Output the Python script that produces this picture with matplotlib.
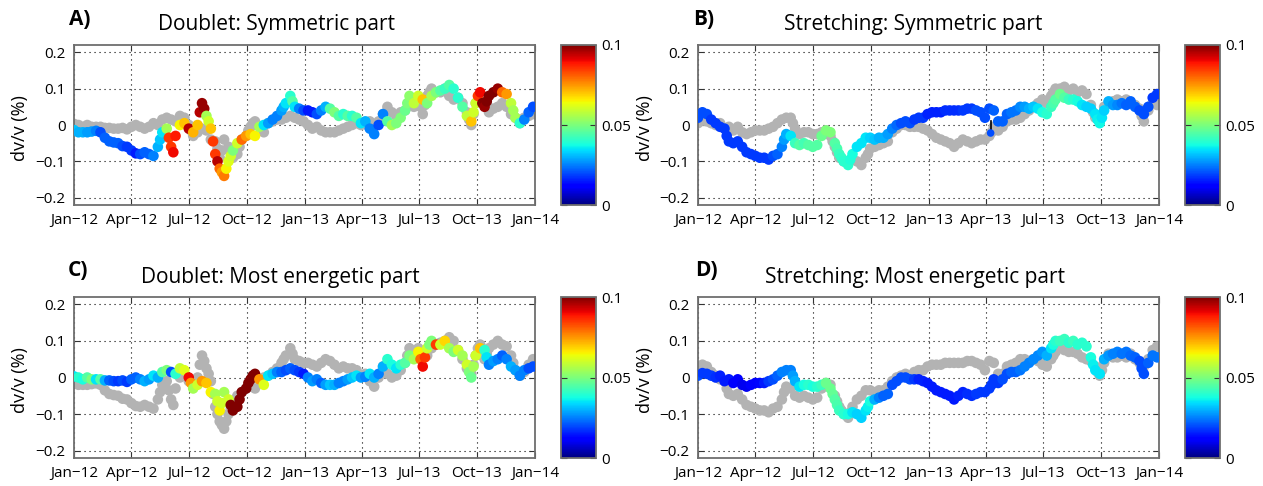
import numpy as np
import matplotlib
matplotlib.use("Agg")
import matplotlib.pyplot as plt

plt.rcParams['font.family'] = ['Open Sans', 'DejaVu Sans']

START = np.datetime64('2012-01-01')

# Weekly dv/v (%) samples, Jan 2012 - Dec 2013 (week 0 = 1 Jan 2012)
weeks = np.arange(105)

# Doublet method, symmetric part: dv/v (%) and its uncertainty
doublet_sym = [
    -0.014, -0.02, -0.02, -0.02, -0.018, -0.016, -0.02, -0.035, -0.045, -0.048,
    -0.05, -0.058, -0.06, -0.07, -0.078, -0.08, -0.075, -0.08, -0.085, -0.06,
    -0.02, -0.01, -0.06, -0.03, 0.0, 0.005, -0.01, -0.02, 0.0, 0.06,
    0.025, -0.01, -0.08, -0.12, -0.14, -0.1, -0.07, -0.05, -0.04, -0.03,
    -0.025, -0.03, -0.005, 0.0, 0.005, 0.015, 0.025, 0.04, 0.06, 0.08,
    0.05, 0.045, 0.04, 0.04, 0.035, 0.03, 0.04, 0.05, 0.045, 0.035,
    0.025, 0.03, 0.025, 0.025, 0.02, 0.005, 0.01, -0.01, -0.025, 0.0,
    0.03, 0.01, 0.0, 0.005, 0.02, 0.04, 0.08, 0.06, 0.08, 0.07,
    0.06, 0.08, 0.09, 0.095, 0.1, 0.11, 0.1, 0.075, 0.05, 0.025,
    0.01, 0.06, 0.09, 0.05, 0.08, 0.09, 0.1, 0.09, 0.085, 0.06,
    0.02, 0.005, 0.015, 0.035, 0.05,
]
doublet_sym_err = [
    0.032, 0.03, 0.03, 0.028, 0.028, 0.025, 0.02, 0.022, 0.022, 0.022,
    0.022, 0.02, 0.018, 0.018, 0.015, 0.02, 0.022, 0.022, 0.025, 0.03,
    0.035, 0.055, 0.085, 0.088, 0.065, 0.07, 0.095, 0.072, 0.07, 0.098,
    0.055, 0.07, 0.085, 0.08, 0.078, 0.062, 0.05, 0.06, 0.08, 0.075,
    0.07, 0.065, 0.055, 0.035, 0.028, 0.025, 0.025, 0.028, 0.035, 0.04,
    0.035, 0.025, 0.02, 0.015, 0.015, 0.02, 0.025, 0.03, 0.045, 0.05,
    0.045, 0.04, 0.045, 0.04, 0.045, 0.035, 0.03, 0.025, 0.025, 0.02,
    0.025, 0.045, 0.055, 0.05, 0.05, 0.048, 0.052, 0.058, 0.06, 0.07,
    0.05, 0.055, 0.05, 0.045, 0.042, 0.045, 0.04, 0.04, 0.045, 0.058,
    0.07, 0.06, 0.09, 0.098, 0.1, 0.1, 0.098, 0.08, 0.075, 0.058,
    0.055, 0.04, 0.025, 0.022, 0.02,
]
# Mid-week samples on the steep stretches
doublet_sym_mid_weeks = [19.5, 21.5, 22.5, 28.5, 29.5, 30.5, 31.5, 32.5, 33.5, 34.5, 35.5,
                         47.5, 49.5, 75.5, 90.5, 91.5, 92.5, 93.5, 99.5]
doublet_sym_mid = [-0.04, -0.035, -0.075, 0.035, 0.045, 0.01, -0.045, -0.1, -0.13, -0.12, -0.085,
                   0.05, 0.065, 0.06, 0.035, 0.08, 0.06, 0.065, 0.04]
doublet_sym_mid_err = [0.032, 0.085, 0.09, 0.095, 0.098, 0.06, 0.085, 0.095, 0.075, 0.065, 0.06,
                       0.03, 0.045, 0.05, 0.06, 0.085, 0.1, 0.1, 0.055]

# Stretching method, symmetric part
stretch_sym = [
    0.02, 0.035, 0.03, 0.015, 0.005, -0.005, -0.01, -0.045, -0.05, -0.045,
    -0.06, -0.075, -0.08, -0.085, -0.09, -0.09, -0.095, -0.085, -0.08, -0.06,
    -0.025, -0.03, -0.05, -0.055, -0.05, -0.055, -0.06, -0.055, -0.03, -0.015,
    -0.02, -0.05, -0.08, -0.1, -0.11, -0.08, -0.06, -0.05, -0.035, -0.035,
    -0.04, -0.035, -0.035, -0.025, -0.01, 0.0, 0.005, 0.01, 0.005, 0.015,
    0.02, 0.02, 0.03, 0.035, 0.035, 0.035, 0.04, 0.04, 0.04, 0.04,
    0.04, 0.045, 0.045, 0.04, 0.035, 0.02, 0.045, 0.04, 0.01, 0.01,
    0.03, 0.035, 0.04, 0.05, 0.05, 0.045, 0.05, 0.045, 0.035, 0.03,
    0.05, 0.07, 0.085, 0.075, 0.07, 0.07, 0.065, 0.055, 0.05, 0.045,
    0.03, 0.005, 0.04, 0.065, 0.055, 0.055, 0.06, 0.055, 0.065, 0.05,
    0.04, 0.03, 0.05, 0.075, 0.085,
]
stretch_sym_err = [
    0.02, 0.02, 0.02, 0.018, 0.018, 0.018, 0.018, 0.018, 0.018, 0.018,
    0.018, 0.018, 0.018, 0.018, 0.018, 0.018, 0.018, 0.02, 0.022, 0.025,
    0.03, 0.035, 0.042, 0.045, 0.043, 0.045, 0.045, 0.045, 0.048, 0.05,
    0.05, 0.045, 0.042, 0.04, 0.04, 0.038, 0.035, 0.035, 0.035, 0.033,
    0.032, 0.03, 0.03, 0.028, 0.025, 0.023, 0.02, 0.02, 0.02, 0.018,
    0.018, 0.018, 0.016, 0.016, 0.016, 0.016, 0.017, 0.017, 0.017, 0.017,
    0.018, 0.018, 0.018, 0.02, 0.02, 0.02, 0.02, 0.022, 0.022, 0.022,
    0.022, 0.024, 0.024, 0.026, 0.028, 0.03, 0.032, 0.035, 0.038, 0.04,
    0.042, 0.045, 0.048, 0.045, 0.042, 0.04, 0.038, 0.035, 0.033, 0.033,
    0.035, 0.037, 0.033, 0.03, 0.028, 0.026, 0.024, 0.022, 0.022, 0.022,
    0.02, 0.02, 0.02, 0.018, 0.018,
]
stretch_sym_mid_weeks = [6.5, 19.5, 31.5, 32.5, 34.5, 80.5, 90.5, 91.5]
stretch_sym_mid = [-0.03, -0.04, -0.065, -0.09, -0.095, 0.06, 0.015, 0.02]
stretch_sym_mid_err = [0.018, 0.028, 0.044, 0.041, 0.039, 0.044, 0.036, 0.035]
# Single outlying stretching estimate in April 2013, joined to its neighbour
stretch_sym_outlier_date = np.datetime64('2013-04-09')
stretch_sym_outlier = [-0.022, 0.012]
stretch_sym_outlier_err = 0.02

# Doublet method, most energetic part
doublet_en = [
    0.003, 0.0, -0.005, 0.0, -0.005, -0.005, -0.005, -0.008, -0.008, -0.01,
    -0.01, -0.008, -0.012, -0.005, 0.0, -0.005, -0.01, -0.005, 0.005, 0.0,
    0.015, 0.02, 0.015, 0.01, 0.025, 0.02, 0.0, -0.03, -0.02, -0.01,
    -0.015, -0.04, -0.045, -0.09, -0.04, -0.06, -0.09, -0.08, -0.04, -0.03,
    -0.005, 0.01, -0.005, -0.02, 0.005, 0.01, 0.015, 0.015, 0.02, 0.025,
    0.02, 0.015, 0.01, 0.0, -0.01, -0.005, -0.015, -0.02, -0.02, -0.02,
    -0.015, -0.01, -0.005, 0.0, 0.005, 0.0, 0.002, 0.01, 0.0, 0.01,
    0.03, 0.05, 0.035, 0.025, 0.035, 0.04, 0.06, 0.05, 0.07, 0.03,
    0.08, 0.1, 0.09, 0.09, 0.1, 0.08, 0.07, 0.075, 0.06, 0.035,
    0.0, 0.06, 0.08, 0.075, 0.035, 0.045, 0.05, 0.06, 0.05, 0.03,
    0.02, 0.005, 0.02, 0.025, 0.03,
]
doublet_en_err = [
    0.035, 0.04, 0.038, 0.045, 0.05, 0.035, 0.045, 0.03, 0.022, 0.02,
    0.018, 0.02, 0.018, 0.022, 0.022, 0.025, 0.03, 0.028, 0.035, 0.03,
    0.045, 0.05, 0.02, 0.04, 0.058, 0.062, 0.09, 0.055, 0.06, 0.075,
    0.07, 0.065, 0.055, 0.065, 0.055, 0.06, 0.1, 0.1, 0.1, 0.1,
    0.1, 0.1, 0.075, 0.062, 0.035, 0.032, 0.025, 0.022, 0.02, 0.022,
    0.02, 0.018, 0.015, 0.025, 0.028, 0.025, 0.022, 0.028, 0.032, 0.03,
    0.025, 0.025, 0.028, 0.032, 0.035, 0.028, 0.025, 0.035, 0.03, 0.025,
    0.03, 0.04, 0.038, 0.035, 0.04, 0.045, 0.05, 0.055, 0.065, 0.09,
    0.06, 0.05, 0.085, 0.06, 0.068, 0.055, 0.05, 0.06, 0.055, 0.06,
    0.048, 0.06, 0.07, 0.04, 0.025, 0.028, 0.025, 0.022, 0.025, 0.03,
    0.028, 0.025, 0.025, 0.02, 0.02,
]
doublet_en_mid_weeks = [26.5, 32.5, 33.5, 35.5, 37.5, 39.5, 40.5, 78.5, 79.5, 80.5,
                        89.5, 90.5, 93.5]
doublet_en_mid = [-0.015, -0.065, -0.07, -0.075, -0.06, -0.015, 0.005, 0.05, 0.055, 0.09,
                  0.015, 0.03, 0.055]
doublet_en_mid_err = [0.075, 0.06, 0.06, 0.1, 0.1, 0.1, 0.1, 0.08, 0.085, 0.05,
                      0.05, 0.055, 0.035]

# Stretching method, most energetic part
stretch_en = [
    0.005, 0.012, 0.01, 0.005, 0.0, 0.005, -0.01, -0.005, -0.015, -0.005,
    -0.02, -0.025, -0.02, -0.015, -0.015, -0.015, -0.01, -0.005, 0.005, 0.015,
    0.02, 0.02, -0.01, -0.025, -0.02, -0.02, -0.025, -0.025, -0.02, -0.015,
    -0.03, -0.06, -0.09, -0.1, -0.1, -0.095, -0.1, -0.11, -0.09, -0.065,
    -0.06, -0.055, -0.05, -0.045, -0.02, -0.01, 0.0, 0.0, -0.005, -0.005,
    -0.005, -0.01, -0.015, -0.025, -0.035, -0.04, -0.045, -0.05, -0.06, -0.05,
    -0.04, -0.045, -0.05, -0.045, -0.04, -0.04, -0.03, -0.005, -0.015, -0.005,
    0.01, 0.015, 0.015, 0.02, 0.03, 0.04, 0.05, 0.06, 0.07, 0.06,
    0.08, 0.1, 0.1, 0.105, 0.095, 0.1, 0.09, 0.095, 0.085, 0.055,
    0.02, 0.01, 0.05, 0.06, 0.065, 0.07, 0.065, 0.07, 0.06, 0.055,
    0.045, 0.01, 0.04, 0.06, 0.055,
]
stretch_en_err = [
    0.02, 0.018, 0.018, 0.018, 0.017, 0.016, 0.015, 0.015, 0.012, 0.012,
    0.01, 0.01, 0.012, 0.012, 0.013, 0.015, 0.018, 0.02, 0.022, 0.025,
    0.025, 0.025, 0.03, 0.035, 0.038, 0.04, 0.038, 0.04, 0.042, 0.048,
    0.048, 0.045, 0.042, 0.04, 0.038, 0.035, 0.033, 0.033, 0.035, 0.038,
    0.03, 0.025, 0.022, 0.022, 0.02, 0.02, 0.02, 0.02, 0.02, 0.018,
    0.016, 0.016, 0.015, 0.015, 0.015, 0.015, 0.015, 0.015, 0.015, 0.016,
    0.016, 0.017, 0.017, 0.018, 0.018, 0.018, 0.018, 0.018, 0.018, 0.02,
    0.02, 0.022, 0.022, 0.024, 0.025, 0.025, 0.026, 0.026, 0.027, 0.03,
    0.035, 0.04, 0.042, 0.042, 0.04, 0.042, 0.04, 0.04, 0.04, 0.038,
    0.035, 0.035, 0.03, 0.027, 0.025, 0.025, 0.024, 0.024, 0.023, 0.022,
    0.02, 0.02, 0.022, 0.024, 0.024,
]
stretch_en_mid_weeks = [21.5, 30.5, 31.5, 38.5, 66.5, 80.5, 89.5, 100.5]
stretch_en_mid = [0.005, -0.045, -0.075, -0.08, -0.02, 0.09, 0.035, 0.025]
stretch_en_mid_err = [0.028, 0.047, 0.044, 0.036, 0.018, 0.038, 0.036, 0.02]

tick_dates = np.array(['2012-01-01', '2012-04-01', '2012-07-01', '2012-10-01',
                       '2013-01-01', '2013-04-01', '2013-07-01', '2013-10-01',
                       '2014-01-01'], dtype='datetime64[D]')
tick_labels = ['Jan\u221212', 'Apr\u221212', 'Jul\u221212', 'Oct\u221212',
               'Jan\u221213', 'Apr\u221213', 'Jul\u221213', 'Oct\u221213',
               'Jan\u221214']
y_ticks = [-0.2, -0.1, 0.0, 0.1, 0.2]
y_tick_labels = ['\u22120.2', '\u22120.1', '0', '0.1', '0.2']
cbar_ticks = [0.0, 0.05, 0.1]
cbar_labels = ['0', '0.05', '0.1']


def series(vals, errs, mid_weeks, mid_vals, mid_errs):
    """Merge weekly and mid-week samples into time-ordered arrays."""
    w = np.concatenate([weeks, mid_weeks])
    v = np.concatenate([vals, mid_vals])
    e = np.concatenate([errs, mid_errs])
    order = np.argsort(w, kind='stable')
    t = START + np.round(w[order] * 7 * 24).astype(int) * np.timedelta64(1, 'h')
    return t, v[order], e[order]


ds = series(doublet_sym, doublet_sym_err, doublet_sym_mid_weeks, doublet_sym_mid, doublet_sym_mid_err)
ss = series(stretch_sym, stretch_sym_err, stretch_sym_mid_weeks, stretch_sym_mid, stretch_sym_mid_err)
de = series(doublet_en, doublet_en_err, doublet_en_mid_weeks, doublet_en_mid, doublet_en_mid_err)
se = series(stretch_en, stretch_en_err, stretch_en_mid_weeks, stretch_en_mid, stretch_en_mid_err)

W, H = 1263, 486


def box(x0, y0, x1, y1):
    """Pixel box (top-left origin) -> figure-fraction rect."""
    return [x0 / W, 1 - y1 / H, (x1 - x0) / W, (y1 - y0) / H]


panels = [
    dict(main=ds, ref=de, letter='A)', title='Doublet: Symmetric part',
         ax=(74, 45, 535, 205), cb=(561, 45, 596, 205),
         letter_xy=(69, 25), title_xy=(277, 30), ylab_xy=(20, 128)),
    dict(main=ss, ref=se, letter='B)', title='Stretching: Symmetric part',
         ax=(698, 45, 1159, 205), cb=(1185, 45, 1220, 205),
         letter_xy=(693, 25), title_xy=(913, 30), ylab_xy=(645, 128)),
    dict(main=de, ref=ds, letter='C)', title='Doublet: Most energetic part',
         ax=(74, 297, 535, 458), cb=(561, 297, 596, 458),
         letter_xy=(68, 276), title_xy=(280, 283), ylab_xy=(20, 380)),
    dict(main=se, ref=ss, letter='D)', title='Stretching: Most energetic part',
         ax=(698, 297, 1159, 458), cb=(1185, 297, 1220, 458),
         letter_xy=(695, 276), title_xy=(915, 283), ylab_xy=(645, 380)),
]

fig = plt.figure(figsize=(W / 100, H / 100), dpi=100)
frame_col = '#6e6e6e'
msize = 58

for i, p in enumerate(panels):
    ax = fig.add_axes(box(*p['ax']))
    rt, rv, _ = p['ref']
    ax.scatter(rt, rv, s=msize, c='#b3b3b3', edgecolors='none', zorder=2)
    mt, mv, me = p['main']
    sc = ax.scatter(mt, mv, s=msize, c=me, cmap='jet', vmin=0, vmax=0.1,
                    edgecolors='none', zorder=3)
    if i == 1:
        ax.plot([stretch_sym_outlier_date] * 2, stretch_sym_outlier, color='k', lw=1.2, zorder=4)
        ax.scatter([stretch_sym_outlier_date], stretch_sym_outlier[:1], s=30,
                   c=[stretch_sym_outlier_err], cmap='jet', vmin=0, vmax=0.1,
                   edgecolors='none', zorder=5)
    ax.set_xlim(tick_dates[0], tick_dates[-1])
    ax.set_ylim(-0.22, 0.22)
    ax.set_xticks(tick_dates)
    ax.set_xticklabels(tick_labels)
    ax.set_yticks(y_ticks)
    ax.set_yticklabels(y_tick_labels)
    ax.grid(True, color='k', linestyle=(0, (1, 3.5)), linewidth=0.8, zorder=1)
    ax.set_axisbelow(True)
    ax.tick_params(direction='in', top=True, right=True, length=4, width=0.8,
                   color='#333333', labelsize=11, pad=6)
    for sp in ax.spines.values():
        sp.set_color(frame_col)
        sp.set_linewidth(1.3)

    cax = fig.add_axes(box(*p['cb']))
    cb = fig.colorbar(sc, cax=cax, ticks=cbar_ticks)
    cb.ax.set_yticklabels(cbar_labels)
    cb.outline.set_edgecolor(frame_col)
    cb.outline.set_linewidth(1.3)
    cax.tick_params(direction='in', left=True, right=True, length=4, width=0.8,
                    color='#333333', labelsize=11, pad=4)

    lx, ly = p['letter_xy']
    fig.text(lx / W, 1 - ly / H, p['letter'], fontsize=15, fontweight='bold',
             ha='left', va='baseline')
    tx, ty = p['title_xy']
    fig.text(tx / W, 1 - ty / H, p['title'], fontsize=15, ha='center', va='baseline')
    yx, yy = p['ylab_xy']
    fig.text(yx / W, 1 - yy / H, 'dv/v (%)', fontsize=13, rotation=90,
             ha='center', va='center')

fig.savefig('out.png', dpi=100)
